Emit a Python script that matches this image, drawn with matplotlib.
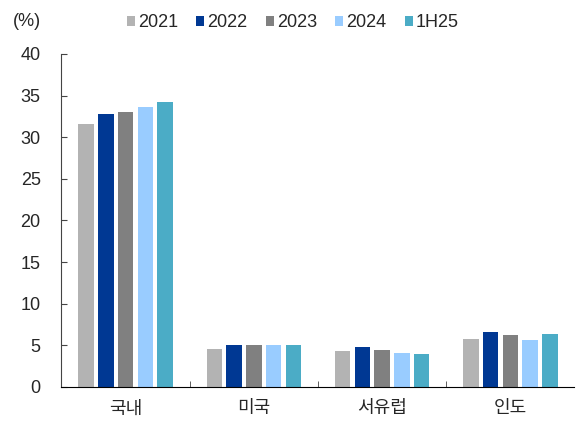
import matplotlib
matplotlib.use("Agg")
import matplotlib.pyplot as plt
import numpy as np
from matplotlib.patches import Patch

plt.rcParams['font.family'] = ['Liberation Sans', 'Noto Sans CJK KR', 'DejaVu Sans']
plt.rcParams['text.color'] = '#262626'
plt.rcParams['xtick.color'] = '#262626'
plt.rcParams['ytick.color'] = '#262626'

categories = ['국내', '미국', '서유럽', '인도']
series_names = ['2021', '2022', '2023', '2024', '1H25']
v2021 = [31.6, 4.6, 4.3, 5.8]
v2022 = [32.8, 5.0, 4.8, 6.6]
v2023 = [33.0, 5.0, 4.5, 6.2]
v2024 = [33.6, 5.0, 4.1, 5.7]
v1h25 = [34.2, 5.1, 4.0, 6.4]
series = [v2021, v2022, v2023, v2024, v1h25]
colors = ['#B3B3B3', '#003893', '#808080', '#99CCFF', '#4BACC6']

fig = plt.figure(figsize=(5.81, 4.21), dpi=100)
ax = fig.add_axes([0.1058, 0.0808, 0.883, 0.791])

x = np.arange(len(categories))
step = 0.154
w = 0.12
for i, (vals, c) in enumerate(zip(series, colors)):
    ax.bar(x + (i - 2) * step, vals, width=w, color=c, edgecolor='none', zorder=2)

ax.set_xlim(-0.5, len(categories) - 0.5)
ax.set_ylim(0, 40)
ax.set_yticks(np.arange(0, 41, 5))
ax.set_xticks(x)
ax.set_xticklabels(categories, fontsize=13, family=['Noto Sans CJK KR', 'DejaVu Sans'])
ax.set_xticks(np.arange(0.5, len(categories) - 0.5, 1), minor=True)
ax.tick_params(axis='x', which='major', length=0, pad=9)
ax.tick_params(axis='x', which='minor', length=4, direction='in', color='#444444')
ax.tick_params(axis='y', length=4, direction='in', labelsize=13, color='#444444', pad=15)
for s in ['top', 'right']:
    ax.spines[s].set_visible(False)
ax.spines['left'].set_color('#444444')
ax.spines['bottom'].set_color('black')

fig.text(0.022, 0.948, '(%)', fontsize=13, ha='left', va='center')
handles = [Patch(facecolor=c, edgecolor='none') for c in colors]
fig.legend(handles, series_names, loc='center', bbox_to_anchor=(0.504, 0.946), ncol=5,
           frameon=False, fontsize=13, handlelength=0.45, handleheight=0.45,
           handletextpad=0.18, columnspacing=1.0, borderaxespad=0)

fig.savefig('out.png', dpi=100)
